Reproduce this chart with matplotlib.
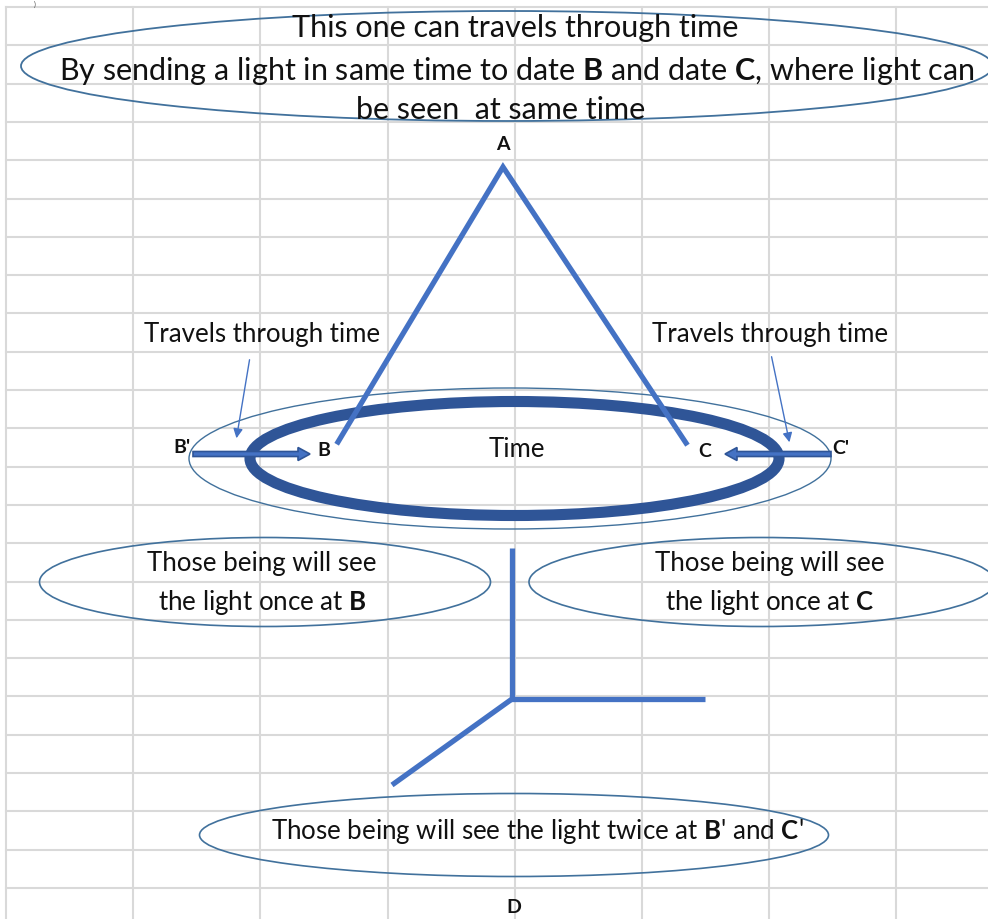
import matplotlib
matplotlib.use("Agg")
import matplotlib.pyplot as plt
from matplotlib.patches import Ellipse, FancyArrow

plt.rcParams['font.family'] = ['Lato', 'DejaVu Sans']
plt.rcParams['mathtext.fontset'] = 'custom'
plt.rcParams['mathtext.rm'] = 'Lato'
plt.rcParams['mathtext.bf'] = 'Lato:bold'

# diagram content (pixel space of the original sheet)
title_lines = ["This one can travels through time",
               r"By sending a light in same time to date $\mathbf{B}$ and date $\mathbf{C}$, where light can",
               "be seen  at same time"]
title_y = [28, 71, 110]
points = {"A": (503, 168), "B": (338, 443), "C": (686, 444), "D": (514, 908)}
stem = [(512, 549), (512, 700)]
branch_right = [(510, 700), (705, 700)]
branch_left = [(512, 700), (392, 786)]
notes_left = ["Those being will see", r"the light once at $\mathbf{B}$"]
notes_right = ["Those being will see", r"the light once at $\mathbf{C}$"]
note_bottom = r"Those being will see the light twice at $\mathbf{B}$' and $\mathbf{C}$'"
side_label = "Travels through time"

W, H = 988, 920
blue = '#4472C4'
dark = '#2F5597'
outline = '#41719C'
ink = '#111111'

fig = plt.figure(figsize=(W / 100, H / 100), dpi=100)
ax = fig.add_axes([0, 0, 1, 1])
ax.set_xlim(0, W)
ax.set_ylim(H, 0)
ax.axis('off')

# spreadsheet grid
for k in range(8):
    ax.plot([6 + 127.2 * k] * 2, [8, H], color='#d9d9d9', lw=1.5, zorder=0)
for k in range(24):
    y = 8 + 38.3 * k
    ax.plot([6, W], [y, y], color='#d9d9d9', lw=1.5, zorder=0)
ax.text(34, 1, ")", fontsize=5, va='top', color='#444444')

renderer = fig.canvas.get_renderer()


def fit(t, target):
    w = t.get_window_extent(renderer).width
    t.set_fontsize(t.get_fontsize() * target / w)
    return t.get_fontsize()


# top ellipse and text
ax.add_patch(Ellipse((507, 67), 972, 110, fill=False, ec=outline, lw=1.3, zorder=2))
t2 = ax.text(517, title_y[1], title_lines[1], ha='center', va='center', fontsize=19, color=ink, zorder=3)
fs_big = fit(t2, 915)
ax.text(515, title_y[0], title_lines[0], ha='center', va='center', fontsize=fs_big, color=ink, zorder=3)
ax.text(501, title_y[2], title_lines[2], ha='center', va='center', fontsize=fs_big, color=ink, zorder=3)

# triangle
ax.plot([points["B"][0], points["A"][0], points["C"][0]],
        [points["B"][1], points["A"][1], points["C"][1]], color=blue, lw=3.8,
        solid_joinstyle='miter', zorder=4)
ax.text(503, 145, "A", ha='center', va='center', fontsize=14, fontweight='bold', color=ink, zorder=5)

# time ellipses
ax.add_patch(Ellipse((510, 459.5), 642, 141, fill=False, ec=outline, lw=1.0, zorder=2))
ax.add_patch(Ellipse((514.5, 459.5), 529, 114, fill=False, ec=dark, lw=8, zorder=3))

tl = ax.text(262, 335, side_label, ha='center', va='center', fontsize=15, color=ink, zorder=5)
fs_small = fit(tl, 237)
ax.text(770, 335, side_label, ha='center', va='center', fontsize=fs_small, color=ink, zorder=5)
ax.text(517, 450, "Time", ha='center', va='center', fontsize=fs_small, color=ink, zorder=5)

ax.annotate("", xy=(236, 442), xytext=(250, 358),
            arrowprops=dict(arrowstyle='-|>', color=blue, lw=1, mutation_scale=14), zorder=5)
ax.annotate("", xy=(790, 446), xytext=(771, 355),
            arrowprops=dict(arrowstyle='-|>', color=blue, lw=1, mutation_scale=14), zorder=5)

ax.add_patch(FancyArrow(193, 455, 117, 0, width=5, head_width=13, head_length=12,
                        length_includes_head=True, fc=blue, ec=dark, lw=1.2, zorder=6))
ax.add_patch(FancyArrow(831, 455, -106, 0, width=5, head_width=13, head_length=12,
                        length_includes_head=True, fc=blue, ec=dark, lw=1.2, zorder=6))
ax.text(182, 448, "B'", ha='center', va='center', fontsize=14, fontweight='bold', color=ink, zorder=7)
ax.text(324, 451, "B", ha='center', va='center', fontsize=14, fontweight='bold', color=ink, zorder=7)
ax.text(705, 452, "C", ha='center', va='center', fontsize=14, fontweight='bold', color=ink, zorder=7)
ax.text(841, 449, "C'", ha='center', va='center', fontsize=14, fontweight='bold', color=ink, zorder=7)

# lower notes
ax.add_patch(Ellipse((265, 583), 451, 89, fill=False, ec=outline, lw=1.2, zorder=2))
ax.add_patch(Ellipse((762, 583), 466, 89, fill=False, ec=outline, lw=1.2, zorder=2))
ax.text(262, 564, notes_left[0], ha='center', va='center', fontsize=fs_small, color=ink, zorder=5)
ax.text(262, 603, notes_left[1], ha='center', va='center', fontsize=fs_small, color=ink, zorder=5)
ax.text(770, 564, notes_right[0], ha='center', va='center', fontsize=fs_small, color=ink, zorder=5)
ax.text(770, 603, notes_right[1], ha='center', va='center', fontsize=fs_small, color=ink, zorder=5)

# branching lines
for seg in (stem, branch_right, branch_left):
    ax.plot([p[0] for p in seg], [p[1] for p in seg], color=blue, lw=3.8,
            solid_capstyle='butt', zorder=4)

ax.add_patch(Ellipse((514, 836), 629, 83, fill=False, ec=outline, lw=1.2, zorder=2))
ax.text(537, 832, note_bottom, ha='center', va='center', fontsize=fs_small, color=ink, zorder=5)
ax.text(points["D"][0], points["D"][1], "D", ha='center', va='center', fontsize=14,
        fontweight='bold', color=ink, zorder=5)

fig.savefig("out.png", dpi=100, facecolor='white')
